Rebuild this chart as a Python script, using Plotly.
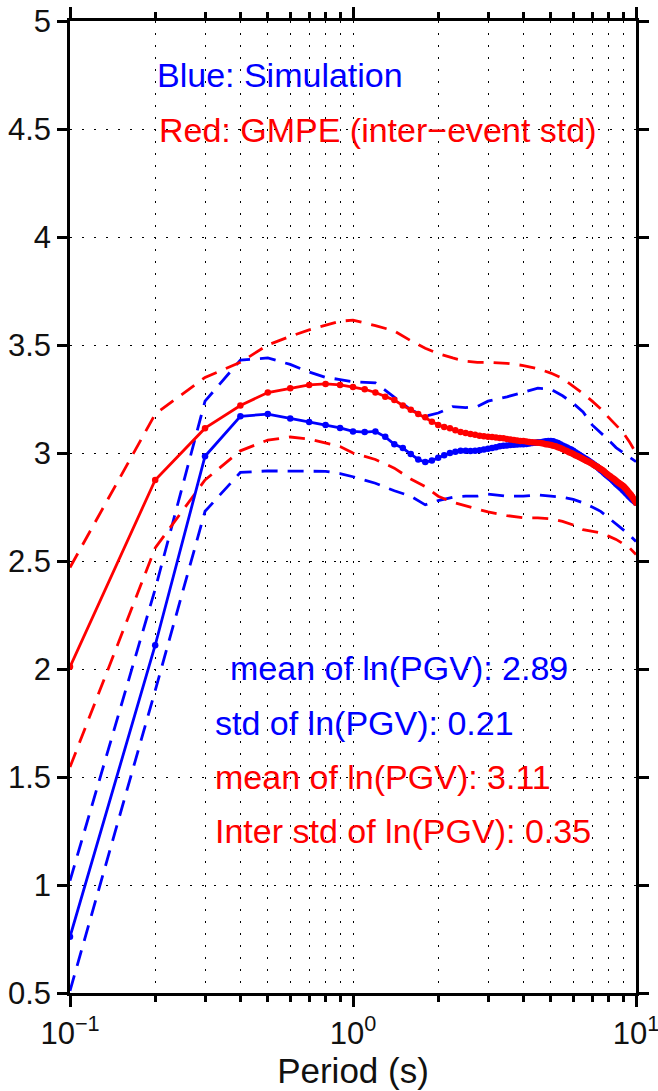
import plotly.graph_objects as go

# Periods (s) for the mean curves
periods = [0.1, 0.2, 0.3, 0.4, 0.5, 0.6, 0.7, 0.8, 0.9, 1.0,
           1.1, 1.2, 1.3, 1.4, 1.5, 1.6, 1.7, 1.8, 1.9, 2.0,
           2.1, 2.2, 2.3, 2.4, 2.5, 2.6, 2.7, 2.8, 2.9, 3.0,
           3.1, 3.2, 3.3, 3.4, 3.5, 3.6, 3.7, 3.8, 3.9, 4.0,
           4.1, 4.2, 4.3, 4.4, 4.5, 4.6, 4.7, 4.8, 4.9, 5.0,
           5.1, 5.2, 5.3, 5.4, 5.5, 5.6, 5.7, 5.8, 5.9, 6.0,
           6.1, 6.2, 6.3, 6.4, 6.5, 6.6, 6.7, 6.8, 6.9, 7.0,
           7.1, 7.2, 7.3, 7.4, 7.5, 7.6, 7.7, 7.8, 7.9, 8.0,
           8.1, 8.2, 8.3, 8.4, 8.5, 8.6, 8.7, 8.8, 8.9, 9.0,
           9.1, 9.2, 9.3, 9.4, 9.5, 9.6, 9.7, 9.8, 9.9, 10.0]

sim_mean = [0.76, 2.11, 2.985, 3.17, 3.18, 3.16, 3.143, 3.13, 3.116, 3.10,
            3.097, 3.10, 3.075, 3.04, 3.023, 2.995, 2.97, 2.958, 2.965, 2.978,
            2.99, 3.0, 3.006, 3.01, 3.01, 3.009, 3.01, 3.013, 3.016, 3.02,
            3.023, 3.027, 3.031, 3.033, 3.035, 3.037, 3.038, 3.039, 3.04, 3.04,
            3.042, 3.044, 3.046, 3.048, 3.05, 3.05, 3.052, 3.054, 3.056, 3.056,
            3.054, 3.05, 3.046, 3.041, 3.035, 3.03, 3.025, 3.02, 3.016, 3.01,
            3.004, 2.998, 2.992, 2.986, 2.98, 2.975, 2.97, 2.964, 2.958, 2.953,
            2.947, 2.941, 2.935, 2.928, 2.921, 2.915, 2.909, 2.902, 2.896, 2.89,
            2.884, 2.878, 2.871, 2.865, 2.858, 2.852, 2.846, 2.84, 2.834, 2.828,
            2.822, 2.815, 2.809, 2.802, 2.796, 2.79, 2.785, 2.78, 2.775, 2.77]

gmpe_mean = [2.01, 2.875, 3.115, 3.22, 3.28, 3.30, 3.315, 3.32, 3.315, 3.305,
             3.295, 3.28, 3.26, 3.245, 3.22, 3.20, 3.18, 3.165, 3.145, 3.13,
             3.12, 3.115, 3.105, 3.097, 3.093, 3.088, 3.085, 3.08, 3.078, 3.075,
             3.074, 3.072, 3.07, 3.068, 3.065, 3.062, 3.06, 3.058, 3.056, 3.055,
             3.053, 3.051, 3.05, 3.049, 3.047, 3.046, 3.044, 3.041, 3.039, 3.037,
             3.034, 3.031, 3.027, 3.023, 3.018, 3.013, 3.009, 3.004, 3.0, 2.995,
             2.99, 2.986, 2.981, 2.977, 2.972, 2.968, 2.963, 2.959, 2.955, 2.95,
             2.945, 2.94, 2.936, 2.931, 2.926, 2.921, 2.915, 2.909, 2.903, 2.897,
             2.892, 2.887, 2.882, 2.877, 2.872, 2.866, 2.861, 2.856, 2.852, 2.847,
             2.841, 2.834, 2.827, 2.82, 2.812, 2.805, 2.797, 2.788, 2.779, 2.77]

# Periods (s) for the +/- std curves
band_periods = [0.1, 0.2, 0.3, 0.4, 0.5, 0.6, 0.7, 0.8, 0.9, 1.0,
                1.2, 1.4, 1.6, 1.8, 2.0, 2.25, 2.5, 2.75, 3.0, 3.5,
                4.0, 4.5, 5.0, 5.5, 6.0, 6.5, 7.0, 7.5, 8.0, 8.5,
                9.0, 9.5, 10.0]

sim_upper = [1.02, 2.37, 3.24, 3.43, 3.44, 3.41, 3.375, 3.35, 3.34, 3.33,
             3.325, 3.26, 3.20, 3.17, 3.185, 3.215, 3.21, 3.215, 3.24, 3.26,
             3.28, 3.30, 3.295, 3.265, 3.23, 3.19, 3.13, 3.095, 3.06, 3.025,
             3.0, 2.98, 2.96]

sim_lower = [0.51, 1.90, 2.73, 2.91, 2.917, 2.917, 2.917, 2.915, 2.905, 2.89,
             2.86, 2.825, 2.80, 2.76, 2.78, 2.795, 2.80, 2.80, 2.81, 2.80,
             2.80, 2.806, 2.80, 2.795, 2.785, 2.77, 2.75, 2.73, 2.70, 2.67,
             2.645, 2.62, 2.59]

gmpe_upper = [2.47, 3.18, 3.35, 3.42, 3.50, 3.54, 3.57, 3.59, 3.61, 3.615,
              3.59, 3.565, 3.52, 3.485, 3.46, 3.44, 3.425, 3.42, 3.42, 3.415,
              3.405, 3.39, 3.37, 3.345, 3.31, 3.275, 3.24, 3.205, 3.165, 3.13,
              3.095, 3.05, 3.0]

gmpe_lower = [1.546, 2.56, 2.875, 3.01, 3.06, 3.074, 3.065, 3.046, 3.03, 3.0,
              2.97, 2.93, 2.88, 2.845, 2.80, 2.772, 2.755, 2.74, 2.727, 2.71,
              2.70, 2.70, 2.695, 2.683, 2.667, 2.645, 2.637, 2.63, 2.615, 2.60,
              2.58, 2.56, 2.53]

y_ticks = [0.5, 1, 1.5, 2, 2.5, 3, 3.5, 4, 4.5, 5]
y_ticktext = ["0.5", "1", "1.5", "2", "2.5", "3", "3.5", "4", "4.5", "5"]
x_ticks = [0.1, 1, 10]
x_ticktext = ["10<sup>\u22121</sup>", "10<sup>0</sup>", "10<sup>1</sup>"]
x_minor = [0.2, 0.3, 0.4, 0.5, 0.6, 0.7, 0.8, 0.9, 2, 3, 4, 5, 6, 7, 8, 9]

BLUE = "#0000ff"
RED = "#ff0000"
FONT = "Liberation Sans"
DASH = "16px,10px"
LW = 2.8

fig = go.Figure()
fig.add_trace(go.Scatter(x=band_periods, y=sim_upper, mode="lines",
                         line=dict(color=BLUE, width=LW, dash=DASH)))
fig.add_trace(go.Scatter(x=band_periods, y=sim_lower, mode="lines",
                         line=dict(color=BLUE, width=LW, dash=DASH)))
fig.add_trace(go.Scatter(x=band_periods, y=gmpe_upper, mode="lines",
                         line=dict(color=RED, width=LW, dash=DASH)))
fig.add_trace(go.Scatter(x=band_periods, y=gmpe_lower, mode="lines",
                         line=dict(color=RED, width=LW, dash=DASH)))
fig.add_trace(go.Scatter(x=periods, y=sim_mean, mode="lines+markers",
                         line=dict(color=BLUE, width=LW),
                         marker=dict(color=BLUE, size=6.5)))
fig.add_trace(go.Scatter(x=periods, y=gmpe_mean, mode="lines+markers",
                         line=dict(color=RED, width=LW),
                         marker=dict(color=RED, size=6.5)))

grid_dash = "2px,10px"

fig.update_xaxes(
    type="log", range=[-1, 1], automargin=False, ticklabeloverflow="allow",
    tickmode="array", tickvals=x_ticks, ticktext=x_ticktext,
    ticks="outside", ticklen=11, tickwidth=2.5, tickcolor="black",
    showline=True, linecolor="black", linewidth=2.5, mirror="allticks",
    showgrid=True, gridcolor="black", gridwidth=1, griddash=grid_dash,
    zeroline=False,
    minor=dict(tickmode="array", tickvals=x_minor, ticks="outside", ticklen=6,
               tickwidth=2.5, tickcolor="black", showgrid=True,
               gridcolor="black", gridwidth=1, griddash=grid_dash),
    tickfont=dict(family=FONT, size=31, color="#111111"),
    title=dict(text="Period (s)", font=dict(family=FONT, size=35, color="#111111"),
               standoff=2),
)
fig.update_yaxes(
    range=[0.5, 5], automargin=False, ticklabeloverflow="allow",
    tickmode="array", tickvals=y_ticks, ticktext=y_ticktext,
    ticks="outside", ticklen=10, tickwidth=2.5, tickcolor="black",
    showline=True, linecolor="black", linewidth=2.5, mirror="allticks",
    showgrid=True, gridcolor="black", gridwidth=1, griddash=grid_dash,
    zeroline=False,
    tickfont=dict(family=FONT, size=31, color="#111111"),
)

def px_x(px):
    return (px - 70) / 566.0

def px_y(py):
    return (993 - py) / 972.0

annots = [
    ("Blue: Simulation", BLUE, 155, 75),
    ("Red: GMPE (inter\u2212event std)", RED, 157, 130),
    ("mean of ln(PGV): 2.89", BLUE, 228, 668),
    ("std of ln(PGV): 0.21", BLUE, 213, 723),
    ("mean of ln(PGV): 3.11", RED, 213, 777),
    ("Inter std of ln(PGV): 0.35", RED, 213, 831),
]
for text, color, ax_px, ay_px in annots:
    fig.add_annotation(text=text, xref="paper", yref="paper",
                       x=px_x(ax_px), y=px_y(ay_px), xanchor="left", yanchor="middle",
                       showarrow=False, font=dict(family=FONT, size=34, color=color))

fig.update_layout(
    width=658, height=1091,
    margin=dict(l=70, r=22, t=21, b=98),
    plot_bgcolor="white", paper_bgcolor="white",
    showlegend=False,
)

fig.write_html("out.html")
